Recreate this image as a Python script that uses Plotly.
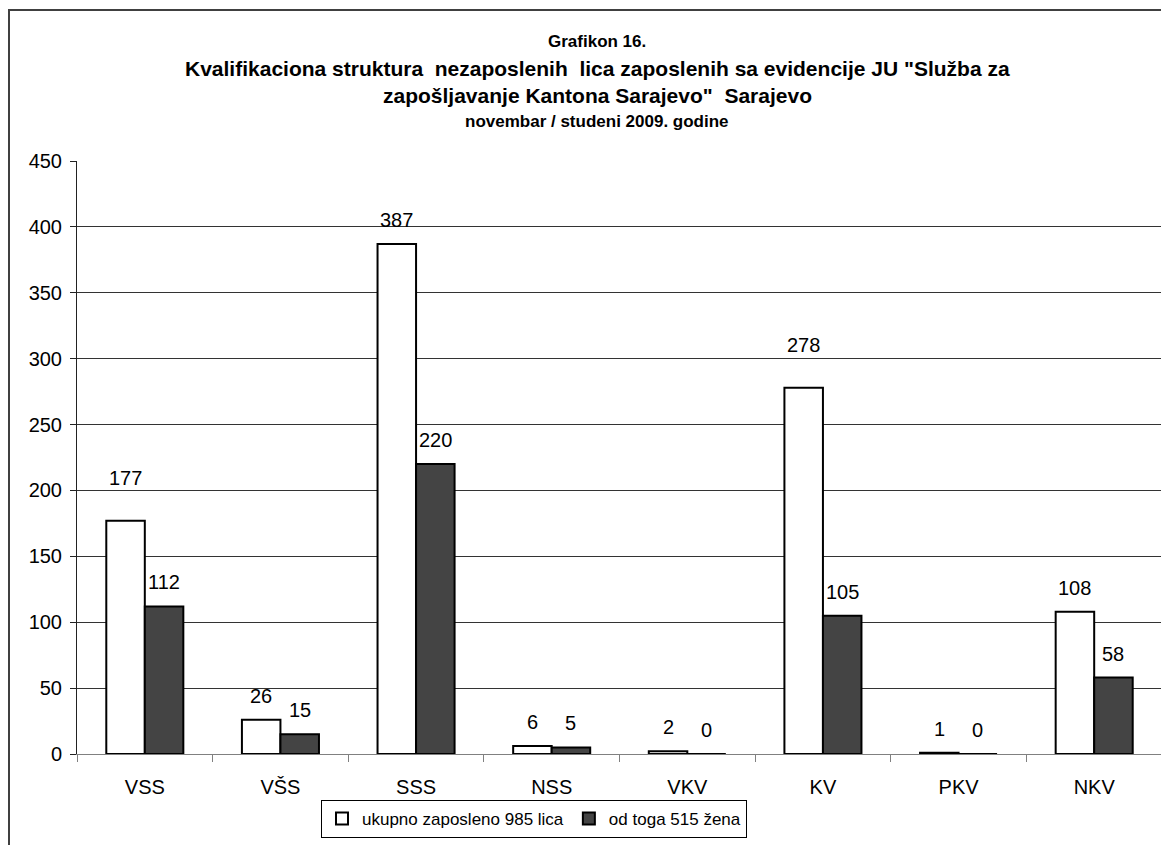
import plotly.graph_objects as go

categories = ["VSS", "VŠS", "SSS", "NSS", "VKV", "KV", "PKV", "NKV"]
total_employed = [177, 26, 387, 6, 2, 278, 1, 108]
of_which_women = [112, 15, 220, 5, 0, 105, 0, 58]

series_names = ["ukupno zaposleno 985 lica", "od toga 515 žena"]
title_lines = [
    "Grafikon 16.",
    'Kvalifikaciona struktura  nezaposlenih  lica zaposlenih sa evidencije JU "Služba za',
    'zapošljavanje Kantona Sarajevo"  Sarajevo',
    "novembar / studeni 2009. godine",
]

FONT = "Liberation Sans, Arial, sans-serif"
OFF = 8  # page body margin
W, H = 1169 - OFF, 845 - OFF
L, R, T, B = 77 - OFF, 1162 - OFF, 161 - OFF, 754 - OFF


def px_x(x):
    return (x - OFF - L) / (R - L)


def px_y(y):
    return (B - (y - OFF)) / (B - T)


fig = go.Figure()
fig.add_bar(
    x=categories,
    y=total_employed,
    name=series_names[0],
    marker=dict(color="white", line=dict(color="black", width=2)),
)
fig.add_bar(
    x=categories,
    y=of_which_women,
    name=series_names[1],
    marker=dict(color="#444444", line=dict(color="black", width=2)),
)

# value labels, lifted above the bars like the original
half_bar = (R - L) / len(categories) * (1 - 0.432) / 4
annotations = []
for series, shift in ((total_employed, -half_bar), (of_which_women, half_bar)):
    for cat, val in zip(categories, series):
        lift = 43 if val in (177, 278) else 24
        annotations.append(
            dict(
                x=cat, y=val, xref="x", yref="y", text=str(val), showarrow=False,
                xshift=shift, yshift=lift, yanchor="middle",
                font=dict(family=FONT, size=20, color="black"),
            )
        )

title_y = [42, 68, 96, 121]
title_size = [17, 21, 21, 17]
for text, y, size in zip(title_lines, title_y, title_size):
    annotations.append(
        dict(
            x=px_x(597), y=px_y(y), xref="paper", yref="paper", text=f"<b>{text}</b>",
            showarrow=False, xanchor="center", yanchor="middle",
            font=dict(family=FONT, size=size, color="black"),
        )
    )

fig.update_layout(
    width=W,
    height=H,
    margin=dict(l=L, r=W - R, t=T, b=H - B, pad=0),
    paper_bgcolor="white",
    plot_bgcolor="white",
    barmode="group",
    bargap=0.432,
    bargroupgap=0,
    font=dict(family=FONT, size=20, color="black"),
    showlegend=True,
    legend=dict(
        orientation="h",
        x=px_x(534), y=px_y(819), xanchor="center", yanchor="middle",
        bgcolor="white", bordercolor="black", borderwidth=1,
        font=dict(family=FONT, size=17, color="black"),
        itemwidth=30,
    ),
    xaxis=dict(
        type="category",
        showline=True, linecolor="#808080", linewidth=1,
        ticks="outside", tickson="boundaries", ticklen=7, tickcolor="#808080",
        ticklabelstandoff=15,
        showgrid=False,
        tickfont=dict(family=FONT, size=20, color="black"),
    ),
    yaxis=dict(
        range=[0, 450], dtick=50,
        showline=True, linecolor="#222222", linewidth=1,
        ticks="outside", ticklen=6, tickcolor="#222222",
        ticklabelstandoff=4,
        showgrid=True, gridcolor="#333333", gridwidth=1,
        zeroline=False,
        tickfont=dict(family=FONT, size=20, color="black"),
    ),
    annotations=annotations,
    shapes=[
        dict(
            type="rect", xref="paper", yref="paper",
            x0=px_x(9), y0=px_y(10), x1=px_x(1180), y1=px_y(860),
            line=dict(color="#404040", width=2), fillcolor="rgba(0,0,0,0)",
        )
    ],
)

fig.write_html("out.html")
